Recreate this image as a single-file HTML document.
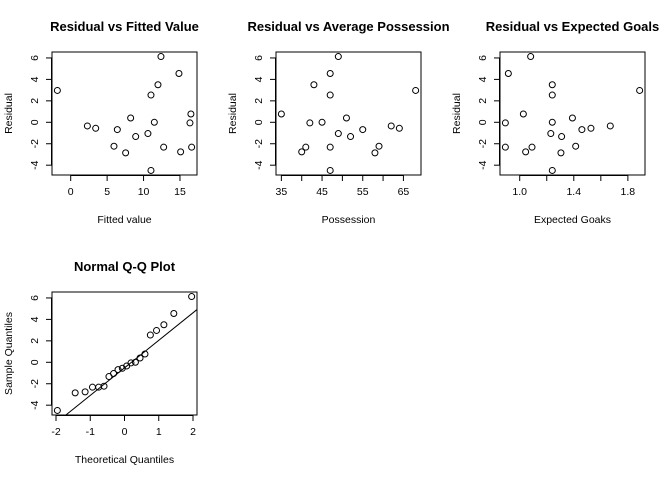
<!DOCTYPE html>
<html><head><meta charset="utf-8"><style>
html,body{margin:0;padding:0;background:#fff;}
svg{display:block;font-family:"Liberation Sans",Arial,sans-serif;}
</style></head><body>
<svg id="c" width="672" height="480" viewBox="0 0 672 480"></svg>
<script>
// Data
const residuals = [2.97,-0.34,-0.56,-2.23,-0.68,-2.85,0.40,-1.33,-1.05,2.54,-4.49,0.0,3.50,6.13,-2.32,4.55,-2.76,-0.06,0.77,-2.32];
const fittedValues = [-1.83,2.29,3.43,5.94,6.40,7.54,8.23,8.92,10.6,11.02,11.02,11.48,11.98,12.39,12.76,14.86,15.09,16.37,16.5,16.6];
const possession = [68,62,64,59,55,58,51,52,49,47,47,45,43,49,41,47,40,42,35,47];
const expectedGoals = [1.887,1.67,1.527,1.414,1.46,1.305,1.39,1.31,1.23,1.241,1.241,1.241,1.241,1.081,1.091,0.916,1.044,0.894,1.027,0.894];
const theoreticalQuantiles = [-1.960,-1.440,-1.150,-0.935,-0.755,-0.598,-0.454,-0.319,-0.189,-0.063,0.063,0.189,0.319,0.454,0.598,0.755,0.935,1.150,1.440,1.960];
const yTicks = [-4,-2,0,2,4,6];
const fittedTicks = [0,5,10,15];
const fittedTickLabels = ["0","5","10","15"];
const possTicks = [35,40,45,50,55,60,65];
const possTickLabels = ["35","","45","","55","","65"];
const xgTicks = [1.0,1.2,1.4,1.6,1.8,2.0];
const xgTickLabels = ["1.0","","1.4","","1.8",""];
const qTicks = [-2,-1,0,1,2];
const qTickLabels = ["-2","-1","0","1","2"];

const NS="http://www.w3.org/2000/svg";
const svg=document.getElementById('c');
function mk(tag,attrs,parent){const e=document.createElementNS(NS,tag);for(const k in attrs)e.setAttribute(k,attrs[k]);(parent||svg).appendChild(e);return e;}
function range(a){const mn=Math.min(...a),mx=Math.max(...a),p=(mx-mn)*0.04;return [mn-p,mx+p];}

function panel(opt){
  const g=mk('g',{});
  
  
  const L=opt.x0,R=opt.x1,T=opt.y0,B=opt.y1;
  const [xmn,xmx]=range(opt.xs),[ymn,ymx]=range(opt.ys);
  const sx=v=>L+(v-xmn)/(xmx-xmn)*(R-L);
  const sy=v=>B-(v-ymn)/(ymx-ymn)*(B-T);
  const t=mk('text',{x:(L+R)/2,y:T-21,'text-anchor':'middle','font-size':13,'font-weight':'bold',fill:'#000'},g);
  t.textContent=opt.title;
  
  
  const box=mk('rect',{x:L,y:T,width:R-L,height:B-T,fill:'none',stroke:'#000','stroke-width':1},g);
  
  
  const xa=mk('g',{},g);
  
  
  const xt=opt.xTicks.filter(v=>v>=xmn&&v<=xmx);
  mk('line',{x1:sx(xt[0]),x2:sx(xt[xt.length-1]),y1:B+0.5,y2:B+0.5,stroke:'#000'},xa);
  opt.xTicks.forEach((v,i)=>{
    if(v<xmn||v>xmx)return;
    mk('line',{x1:sx(v),x2:sx(v),y1:B,y2:B+6,stroke:'#000'},xa);
    if(opt.xLabels[i]){const tx=mk('text',{x:sx(v),y:B+20,'text-anchor':'middle','font-size':10.5,fill:'#000'},xa);tx.textContent=opt.xLabels[i];
      
      }
  });
  const xl=mk('text',{x:(L+R)/2,y:B+48,'text-anchor':'middle','font-size':10.5,fill:'#000'},g);
  xl.textContent=opt.xTitle;
  
  
  const ya=mk('g',{},g);
  
  
  mk('line',{x1:L-0.5,x2:L-0.5,y1:sy(yTicks[0]),y2:sy(yTicks[yTicks.length-1]),stroke:'#000'},ya);
  yTicks.forEach(v=>{
    mk('line',{x1:L-6,x2:L,y1:sy(v),y2:sy(v),stroke:'#000'},ya);
    const ty=mk('text',{x:L-14,y:sy(v),'text-anchor':'middle','font-size':10.5,fill:'#000',transform:`rotate(-90 ${L-14} ${sy(v)})`},ya);
    ty.textContent=String(v);
    
    
  });
  const yl=mk('text',{x:L-40,y:(T+B)/2,'text-anchor':'middle','font-size':10.5,fill:'#000',transform:`rotate(-90 ${L-40} ${(T+B)/2})`},g);
  yl.textContent=opt.yTitle;
  
  
  opt.xs.forEach((v,i)=>{
    const c=mk('circle',{cx:sx(v),cy:sy(opt.ys[i]),r:3,fill:'none',stroke:'#000','stroke-width':1},g);
    
    
  });
  if(opt.line){
    const cid='clip'+opt.name;
    const cp=mk('clipPath',{id:cid},g);mk('rect',{x:L,y:T,width:R-L,height:B-T},cp);
    const [a,b]=opt.line;
    const ln=mk('line',{x1:sx(xmn),y1:sy(a+b*xmn),x2:sx(xmx),y2:sy(a+b*xmx),stroke:'#000','clip-path':`url(#${cid})`},g);
    
    
  }
}

panel({name:'panel-fitted',title:'Residual vs Fitted Value',x0:52,x1:197,y0:52,y1:175,xs:fittedValues,ys:residuals,xTicks:fittedTicks,xLabels:fittedTickLabels,xTitle:'Fitted value',yTitle:'Residual'});
panel({name:'panel-possession',title:'Residual vs Average Possession',x0:276,x1:421,y0:52,y1:175,xs:possession,ys:residuals,xTicks:possTicks,xLabels:possTickLabels,xTitle:'Possession',yTitle:'Residual'});
panel({name:'panel-xg',title:'Residual vs Expected Goals',x0:500,x1:645,y0:52,y1:175,xs:expectedGoals,ys:residuals,xTicks:xgTicks,xLabels:xgTickLabels,xTitle:'Expected Goaks',yTitle:'Residual'});

const sorted=[...residuals].sort((a,b)=>a-b);
function q(arr,p){const h=(arr.length-1)*p,lo=Math.floor(h);return arr[lo]+(h-lo)*(arr[lo+1]-arr[lo]);}
const y1=q(sorted,0.25),y3=q(sorted,0.75),z=0.6745;
const slope=(y3-y1)/(2*z),icpt=(y1+y3)/2;
panel({name:'panel-qq',title:'Normal Q-Q Plot',x0:52,x1:197,y0:292,y1:415,xs:theoreticalQuantiles,ys:sorted,xTicks:qTicks,xLabels:qTickLabels,xTitle:'Theoretical Quantiles',yTitle:'Sample Quantiles',line:[icpt,slope]});
</script>
</body></html>
